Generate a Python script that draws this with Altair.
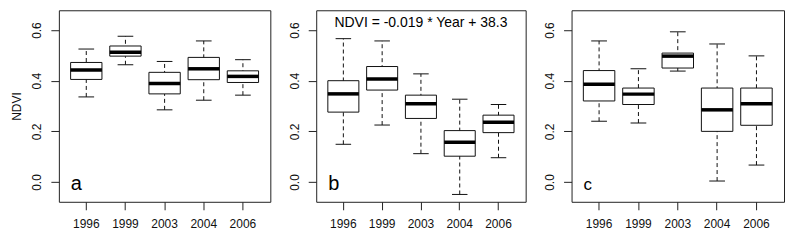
import altair as alt
import pandas as pd

FONT = "Liberation Sans"

years = ["1996", "1999", "2003", "2004", "2006"]
y_ticks = [0.0, 0.1, 0.2, 0.3, 0.4, 0.5, 0.6]

# Panel a
a_low = [0.336, 0.463, 0.285, 0.323, 0.343]
a_q1 = [0.405, 0.497, 0.348, 0.404, 0.393]
a_med = [0.442, 0.512, 0.389, 0.447, 0.417]
a_q3 = [0.472, 0.537, 0.433, 0.492, 0.439]
a_high = [0.525, 0.575, 0.476, 0.557, 0.483]

# Panel b
b_low = [0.149, 0.225, 0.112, -0.049, 0.096]
b_q1 = [0.276, 0.363, 0.251, 0.102, 0.195]
b_med = [0.348, 0.407, 0.309, 0.157, 0.236]
b_q3 = [0.400, 0.456, 0.343, 0.203, 0.264]
b_high = [0.566, 0.557, 0.427, 0.327, 0.306]

# Panel c
c_low = [0.240, 0.233, 0.438, 0.004, 0.067]
c_q1 = [0.320, 0.306, 0.450, 0.200, 0.224]
c_med = [0.386, 0.347, 0.497, 0.285, 0.309]
c_q3 = [0.440, 0.371, 0.509, 0.371, 0.371]
c_high = [0.557, 0.447, 0.593, 0.545, 0.498]

note_b = "NDVI = -0.019 * Year + 38.3"


def panel(low, q1, med, q3, high, letter, letter_size, width, title=None, note=None):
    df = pd.DataFrame({"year": years, "low": low, "q1": q1, "med": med, "q3": q3, "high": high})
    base = alt.Chart(df)
    x = alt.X(
        "year:O",
        sort=years,
        scale=alt.Scale(paddingInner=0.2, paddingOuter=0.3),
        axis=alt.Axis(
            title=None, labelAngle=0, domain=False, tickSize=8, tickColor="#222",
            labelFontSize=12, labelFont=FONT, labelColor="#111", labelPadding=9,
            labelBaseline="top", labelAlign="center",
        ),
    )
    yscale = alt.Scale(domain=[-0.078, 0.678], nice=False, zero=False)
    axis_kw = dict(
        values=y_ticks,
        labelExpr="round(datum.value*10)%2==0 ? format(datum.value,'.1f') : ''",
        grid=False, domain=False, tickSize=8, tickColor="#222",
        labelAngle=270, labelAlign="center", labelBaseline="alphabetic",
        labelPadding=10, labelFontSize=12, labelFont=FONT, labelColor="#111",
        labelOverlap=False,
    )
    if title:
        yaxis = alt.Axis(title=title, titleFontSize=12, titleFont=FONT,
                         titleFontWeight="normal", titleColor="#111", titlePadding=7,
                         **axis_kw)
    else:
        yaxis = alt.Axis(title=None, **axis_kw)

    whisk = base.mark_rule(strokeDash=[4, 3], color="#111", strokeWidth=1).encode(
        x=x, y=alt.Y("low:Q", scale=yscale, axis=yaxis), y2="high:Q")
    box = base.mark_bar(fill="white", stroke="#111", strokeWidth=1, opacity=1).encode(
        x=x, y=alt.Y("q1:Q", scale=yscale), y2="q3:Q")
    bw = width / 5.4 * 0.8
    medl = base.mark_tick(color="black", thickness=3.5, size=bw, opacity=1).encode(
        x=x, y=alt.Y("med:Q", scale=yscale))
    cap_hi = base.mark_tick(color="#111", thickness=1, size=bw / 2, opacity=1).encode(
        x=x, y=alt.Y("high:Q", scale=yscale))
    cap_lo = base.mark_tick(color="#111", thickness=1, size=bw / 2, opacity=1).encode(
        x=x, y=alt.Y("low:Q", scale=yscale))
    lab = alt.Chart(pd.DataFrame({"t": [letter]})).mark_text(
        align="left", baseline="alphabetic", fontSize=letter_size, font=FONT, color="black"
    ).encode(text="t:N", x=alt.value(12), y=alt.value(180))
    layers = [whisk, box, medl, cap_hi, cap_lo, lab]
    if note:
        nt = alt.Chart(pd.DataFrame({"t": [note]})).mark_text(
            align="center", baseline="alphabetic", fontSize=14, font=FONT, color="black"
        ).encode(text="t:N", x=alt.value(width / 2), y=alt.value(17))
        layers.append(nt)
    return alt.layer(*layers).properties(width=width, height=192)


pa = panel(a_low, a_q1, a_med, a_q3, a_high, "a", 20, 212, title="NDVI")
pb = panel(b_low, b_q1, b_med, b_q3, b_high, "b", 20, 210, note=note_b)
pc = panel(c_low, c_q1, c_med, c_q3, c_high, "c", 17, 213)

chart = alt.hconcat(pa, pb, pc, spacing=16).properties(
    padding={"left": 2, "top": 1, "right": 0, "bottom": 0}
).configure_view(stroke="#222", strokeWidth=1)

chart.save("out.html", embed_options={"renderer": "svg", "actions": False})
